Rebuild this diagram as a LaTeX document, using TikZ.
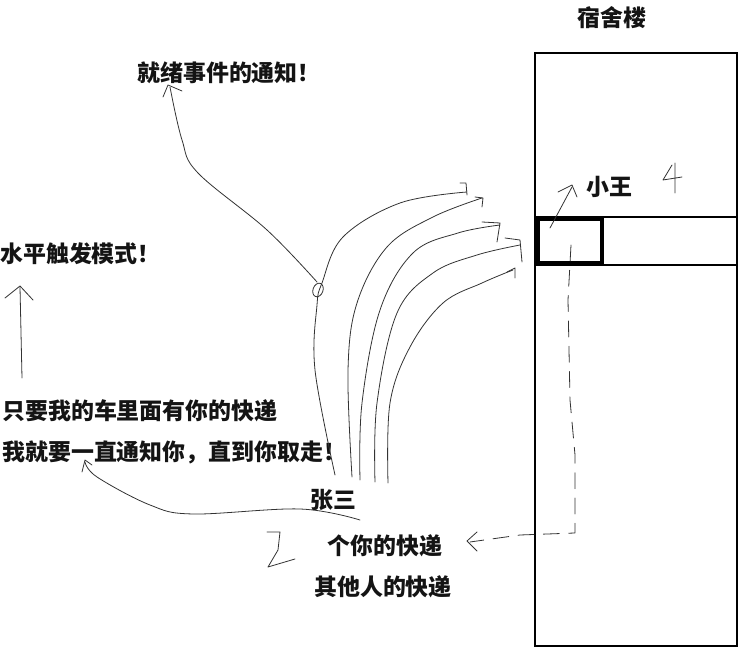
\documentclass[tikz,border=0pt]{standalone}
\usepackage{fontspec}
\setmainfont{Noto Sans CJK SC}
\usepackage{tikz}
\usetikzlibrary{positioning}

\tikzset{
  txt/.style={font=\fontsize{17.2}{20}\selectfont\bfseries,inner sep=0pt,text=black!92},
  pen/.style={line width=0.6pt,black!80,line cap=round,line join=round},
  wall/.style={line width=2.2pt,black}
}

\begin{document}
\begin{tikzpicture}[x=0.75pt,y=0.75pt]
    \useasboundingbox (0,0) rectangle (752,655);
    % the dorm
    \node[txt] (dorm) at (612,637) {宿舍楼};
    \draw[wall] (535,9) rectangle (737,602);
    \draw[line width=1.8pt] (535,438) -- (737,438) (535,390) -- (737,390);
    \draw[line width=2.6pt] (538,392) rectangle (602,436);
    \node[txt] (wang) at (609,468) {小王};
    \coordinate (room) at (550,427);
    \draw[pen] (room) -- (572,468);
    \draw[pen] (558,463) -- (572,470) -- (577,458);
    \draw[pen] (675,492) -- (675,462) (672,490) -- (663,475) -- (682,478);

    % texts on the left
    \node[txt,anchor=west] (ready) at (137,582) {就绪事件的通知！};
    \node[txt,anchor=west] (lt) at (0,401) {水平触发模式！};
    \node[txt,anchor=west] (keep) at (2,244) {只要我的车里面有你的快递};
    \node[txt,anchor=west] (tell) at (2,203) {我就要一直通知你，直到你取走！};
    \node[txt] (zs) at (333,155) {张三};
    \node[txt] (yours) at (385,109) {个你的快递};
    \node[txt] (others) at (383,68) {其他人的快递};

    \coordinate (lttail) at (22,277);
    \draw[pen] (lttail) -- (20,368);
    \draw[pen] (5,357) -- (20,369) -- (33,355);

    % notifications from zhang san
    \draw[pen] plot[smooth,tension=0.6] coordinates {(335,180) (315,285) (317,350) (322,372) (343,418) (400,452) (467,463)};
    \draw[pen] (460,472) -- (466,472) -- (467,460);
    \draw[pen] plot[smooth,tension=0.6] coordinates {(352,178) (348,285) (357,352) (387,408) (433,438) (482,457)};
    \draw[pen] (475,458) -- (483,457) -- (482,448);
    \draw[pen] plot[smooth,tension=0.6] coordinates {(360,175) (362,252) (380,345) (413,402) (458,422) (500,430)};
    \draw[pen] (482,433) -- (500,432) -- (497,413);
    \draw[pen] plot[smooth,tension=0.6] coordinates {(375,173) (377,252) (397,342) (433,382) (477,400) (520,410)};
    \draw[pen] (505,417) -- (520,415) -- (522,393);
    \draw[pen] plot[smooth,tension=0.6] coordinates {(388,172) (390,252) (410,308) (443,352) (482,372) (513,385)};
    \draw[pen] (507,383) -- (515,387) -- (515,377);

    \draw[pen] (318,365) ellipse[x radius=5,y radius=7,rotate=-20];
    \draw[pen] plot[smooth,tension=0.6] coordinates {(317,373) (267,425) (198,482) (182,515) (170,568)};
    \draw[pen] (163,558) -- (168,570) -- (182,564);

    \coordinate (zstail) at (360,135);
    \draw[pen] plot[smooth,tension=0.6] coordinates {(zstail) (300,146) (193,141) (150,150) (97,178) (85,193)};
    \draw[pen] (82,183) -- (85,195) -- (92,190);

    \coordinate (parcel) at (571,410);
    \draw[pen,dash pattern=on 12pt off 7pt] (parcel) -- (568,355) -- (570,255) -- (575,200) -- (575,122) -- (520,120) -- (470,113);
    \draw[pen] (477,123) -- (467,114) -- (477,104);

    \draw[pen] (267,123) -- (280,123) -- (278,105) -- (268,88) -- (295,96);
\end{tikzpicture}
\end{document}
